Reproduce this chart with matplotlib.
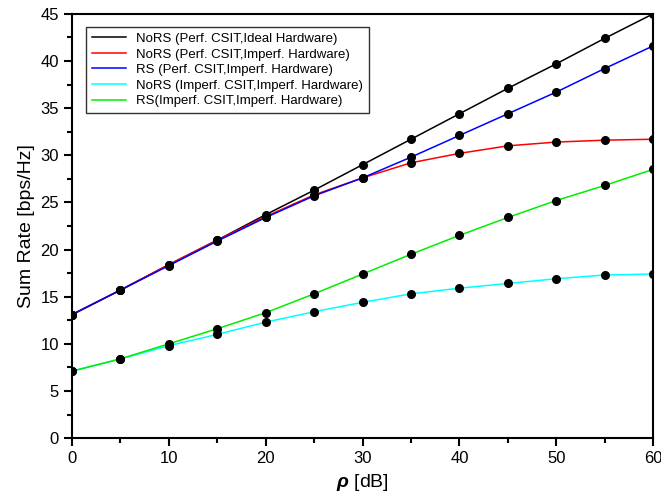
import matplotlib
matplotlib.use('Agg')
import matplotlib.pyplot as plt
from matplotlib.ticker import MultipleLocator

plt.rcParams['font.family'] = ['Liberation Sans', 'DejaVu Sans']
plt.rcParams['mathtext.fontset'] = 'custom'
plt.rcParams['mathtext.rm'] = 'Liberation Sans'
plt.rcParams['mathtext.bfit'] = 'Liberation Sans:bold:italic'

rho = [0, 5, 10, 15, 20, 25, 30, 35, 40, 45, 50, 55, 60]

# sum rate values
norrs_perf_ideal = [13.1, 15.7, 18.4, 21.0, 23.7, 26.3, 29.0, 31.7, 34.4, 37.1, 39.7, 42.4, 45.0]
norrs_perf_imperf = [13.1, 15.7, 18.4, 21.0, 23.5, 25.8, 27.6, 29.2, 30.2, 31.0, 31.4, 31.6, 31.7]
rs_perf_imperf = [13.1, 15.7, 18.3, 20.9, 23.4, 25.7, 27.6, 29.8, 32.1, 34.4, 36.7, 39.2, 41.6]
norrs_imperf_imperf = [7.1, 8.4, 9.8, 11.0, 12.3, 13.4, 14.4, 15.3, 15.9, 16.4, 16.9, 17.3, 17.4]
rs_imperf_imperf = [7.1, 8.4, 10.0, 11.6, 13.3, 15.3, 17.4, 19.5, 21.5, 23.4, 25.2, 26.8, 28.5]

series = [
    (norrs_perf_ideal, 'black', 'NoRS (Perf. CSIT,Ideal Hardware)'),
    (norrs_perf_imperf, 'red', 'NoRS (Perf. CSIT,Imperf. Hardware)'),
    (rs_perf_imperf, 'blue', 'RS (Perf. CSIT,Imperf. Hardware)'),
    (norrs_imperf_imperf, 'cyan', 'NoRS (Imperf. CSIT,Imperf. Hardware)'),
    (rs_imperf_imperf, '#00ee00', 'RS(Imperf. CSIT,Imperf. Hardware)'),
]

fig = plt.figure(figsize=(6.61, 4.95), dpi=100)
ax = fig.add_axes([0.109, 0.115, 0.879, 0.857])

for vals, col, lab in series:
    ax.plot(rho, vals, color=col, lw=1.1, label=lab)
for vals, col, lab in series:
    ax.plot(rho, vals, 'o', color='black', ms=5.5, zorder=5)

ax.set_xlim(0, 60)
ax.set_ylim(0, 45)
ax.xaxis.set_major_locator(MultipleLocator(10))
ax.xaxis.set_minor_locator(MultipleLocator(5))
ax.yaxis.set_major_locator(MultipleLocator(5))
ax.yaxis.set_minor_locator(MultipleLocator(2.5))
ax.tick_params(which='both', direction='out', top=False, right=False, width=1.5, labelsize=12)
ax.tick_params(which='major', length=6)
ax.tick_params(which='minor', length=3.5)
for s in ax.spines.values():
    s.set_linewidth(1.5)

ax.set_xlabel(r'$\mathbfit{\rho}$ [dB]', fontsize=14, labelpad=4)
ax.set_ylabel('Sum Rate [bps/Hz]', fontsize=14)

leg = ax.legend(loc='upper left', fontsize=9.5, frameon=True, fancybox=False,
                edgecolor='black', handlelength=2.6, borderpad=0.45,
                labelspacing=0.25, bbox_to_anchor=(0.012, 0.985))
leg.get_frame().set_linewidth(1.0)

fig.savefig('out.png', dpi=100)
